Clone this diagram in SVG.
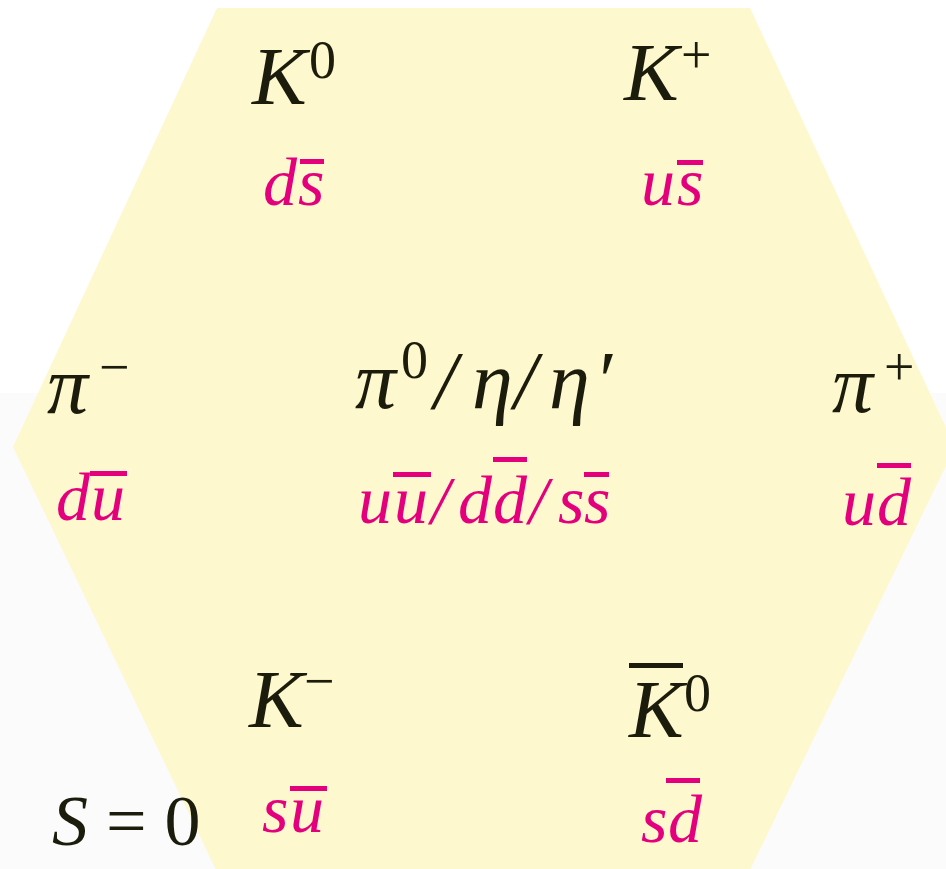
<svg xmlns="http://www.w3.org/2000/svg" width="946" height="869" viewBox="0 0 946 869">
<style>
.m{font-family:"Liberation Serif",serif;font-style:italic;font-size:82px;fill:#1c1c0c}
.sp{font-family:"Liberation Serif",serif;font-size:54px;fill:#1c1c0c}
.q{font-family:"Liberation Serif",serif;font-style:italic;font-size:68px;fill:#e4007c}
.bk{fill:#1c1c0c}
.bp{fill:#e4007c}
</style>
<rect x="0" y="0" width="946" height="393" fill="#ffffff"/>
<rect x="0" y="393" width="946" height="476" fill="#fbfbfb"/>
<polygon points="217,8 750,8 955,447 750,870 216,870 13,447" fill="#fdf8cd"/>

<g id="K0">
<text class="m" x="252" y="104">K</text>
<text class="sp" x="309" y="78">0</text>
<text class="q" x="263" y="205">d<tspan x="298">s</tspan></text>
<rect class="bp" x="300" y="159" width="24" height="5"/>
</g>

<g id="Kplus">
<text class="m" x="624" y="100">K</text>
<text class="sp" x="681" y="73">+</text>
<text class="q" x="641" y="205">u<tspan x="677">s</tspan></text>
<rect class="bp" x="677" y="160" width="26" height="5"/>
</g>

<g id="piminus">
<text class="m" x="47" y="413">π</text>
<text class="sp" x="99" y="385">−</text>
<text class="q" x="56" y="520">d<tspan x="91">u</tspan></text>
<rect class="bp" x="90" y="471" width="37" height="5"/>
</g>

<g id="pi0">
<text class="m" x="355" y="408">π</text>
<text class="sp" x="401" y="378">0</text>
<text class="m" x="434" y="408">/</text>
<text class="m" x="472" y="408">η</text>
<text class="m" x="514" y="408">/</text>
<text class="m" x="549" y="408">η</text>
<text class="m" x="594" y="408">′</text>
<text class="q" x="358" y="523">u<tspan x="394">u</tspan><tspan x="431">/</tspan><tspan x="458">d</tspan><tspan x="493">d</tspan><tspan x="529">/</tspan><tspan x="558">s</tspan><tspan x="584">s</tspan></text>
<rect class="bp" x="393" y="472" width="38" height="5"/>
<rect class="bp" x="493" y="457" width="34" height="5"/>
<rect class="bp" x="584" y="472" width="25" height="5"/>
</g>

<g id="piplus">
<text class="m" x="832" y="412">π</text>
<text class="sp" x="884" y="385">+</text>
<text class="q" x="842" y="525">u<tspan x="877">d</tspan></text>
<rect class="bp" x="877" y="463" width="34" height="5"/>
</g>

<g id="Kminus">
<text class="m" x="249" y="727">K</text>
<text class="sp" x="304" y="699">−</text>
<text class="q" x="262" y="832">s<tspan x="290">u</tspan></text>
<rect class="bp" x="290" y="786" width="37" height="5"/>
</g>

<g id="K0bar">
<rect class="bk" x="629" y="663" width="54" height="5"/>
<text class="m" x="629" y="737">K</text>
<text class="sp" x="684" y="711">0</text>
<text class="q" x="641" y="842">s<tspan x="668">d</tspan></text>
<rect class="bp" x="666" y="778" width="34" height="5"/>
</g>

<g id="S0">
<text x="52" y="845" style="font-family:'Liberation Serif',serif;font-size:72px;fill:#1c1c0c"><tspan font-style="italic">S</tspan> = 0</text>
</g>
</svg>
